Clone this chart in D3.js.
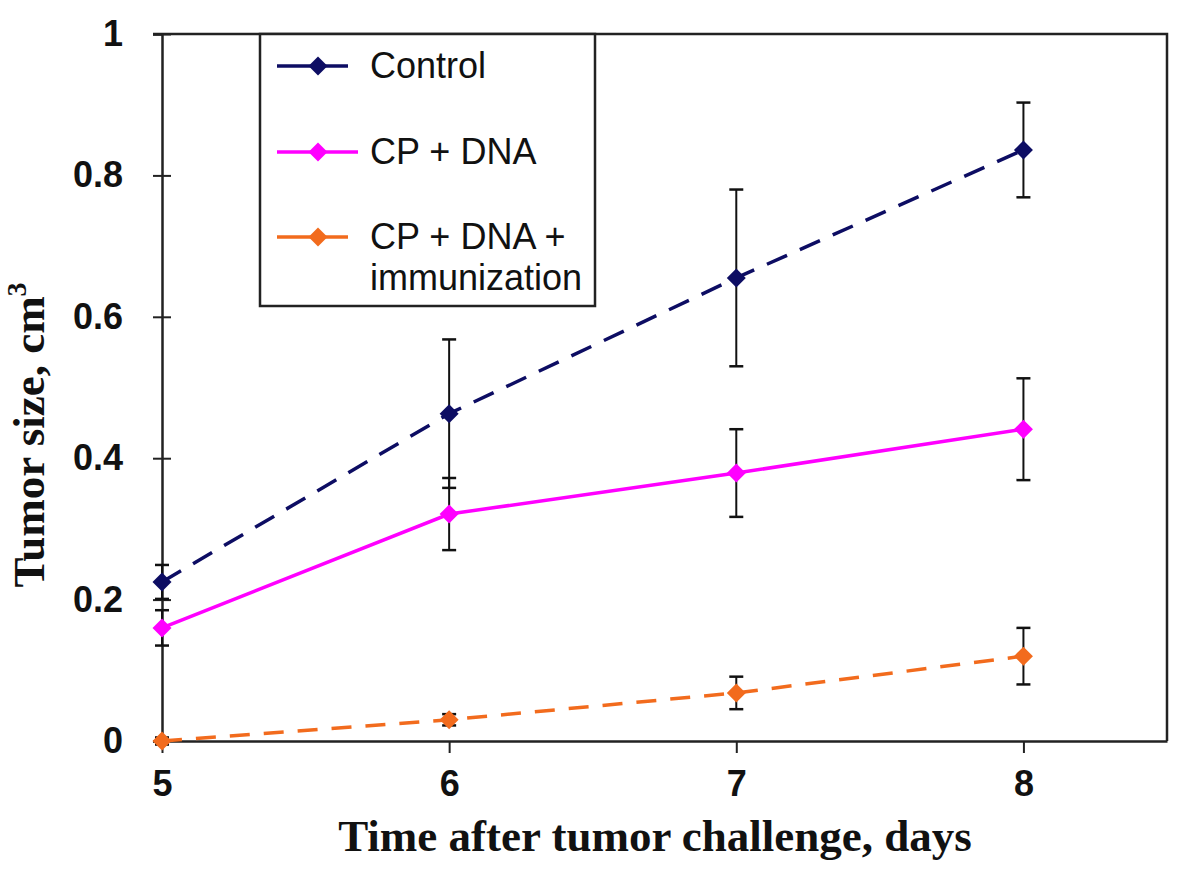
<!DOCTYPE html>
<html>
<head>
<meta charset="utf-8">
<script src="https://cdn.jsdelivr.net/npm/d3@7"></script>
<style>
    body { margin: 0; background: #fff; }
    .tick text { font-family: "Liberation Sans", Arial, sans-serif; font-weight: bold; }
</style>
</head>
<body>
<script>
(function(){
    // data
    var days = [5, 6, 7, 8];
    var control = [0.225, 0.463, 0.655, 0.836];
    var controlErr = [0.024, 0.105, 0.125, 0.067];
    var cpDna = [0.16, 0.321, 0.379, 0.441];
    var cpDnaErr = [0.025, 0.051, 0.062, 0.072];
    var cpDnaImm = [0.0, 0.03, 0.068, 0.12];
    var cpDnaImmErr = [0.005, 0.008, 0.023, 0.04];
    var xTicks = [5, 6, 7, 8];
    var yTicks = [0, 0.2, 0.4, 0.6, 0.8, 1];
    var yTickLabels = ["0", "0.2", "0.4", "0.6", "0.8", "1"];
    var seriesNames = ["Control", "CP + DNA", "CP + DNA +"];

    var width = 1200, height = 869;

    var svg = d3.select("body")
        .append("svg")
        .attr("width", width)
        .attr("height", height);

    var x = d3.scaleLinear().domain([5, 8.5]).range([162, 1167]);
    var y = d3.scaleLinear().domain([0, 1]).range([741, 34]);

    var series = [
        {name: seriesNames[0], vals: control, err: controlErr, color: "#0d0d63", dash: "22,14"},
        {name: seriesNames[1], vals: cpDna, err: cpDnaErr, color: "#ff00ff", dash: null},
        {name: seriesNames[2], vals: cpDnaImm, err: cpDnaImmErr, color: "#f26b1d", dash: "20,14"}
    ];

    // plot frame (top and right)
    svg.append("path")
        .attr("d", "M" + (x(5) - 9) + "," + y(1) + "H" + x(8.5) + "V" + y(0))
        .attr("fill", "none")
        .attr("stroke", "#222")
        .attr("stroke-width", 2.5);

    // y axis with crossing ticks
    var yAxis = svg.append("g")
        .attr("transform", "translate(" + x(5) + ",0)")
        .call(d3.axisLeft(y)
            .tickValues(yTicks)
            .tickSize(9)
            .tickPadding(30)
            .tickFormat(function(d, i){ return yTickLabels[i]; }));
    yAxis.select(".domain").attr("stroke", "#222").attr("stroke-width", 2.5);
    yAxis.selectAll(".tick line").attr("x1", -9).attr("x2", 9).attr("stroke", "#222").attr("stroke-width", 2);
    yAxis.selectAll(".tick text").attr("font-size", 36).attr("fill", "#111");
    yAxis.selectAll(".tick").filter(function(d){ return d === 0; }).select("line").attr("x2", 0);

    // x axis
    var xAxis = svg.append("g")
        .attr("transform", "translate(0," + y(0) + ")")
        .call(d3.axisBottom(x)
            .tickValues(xTicks)
            .tickSize(12)
            .tickSizeOuter(0)
            .tickPadding(17)
            .tickFormat(d3.format("d")));
    xAxis.select(".domain").attr("stroke", "#222").attr("stroke-width", 2.5);
    xAxis.selectAll(".tick line").attr("stroke", "#222").attr("stroke-width", 2);
    xAxis.selectAll(".tick text").attr("font-size", 36).attr("fill", "#111");

    var line = d3.line()
        .x(function(d, i){ return x(days[i]); })
        .y(function(d){ return y(d); });

    // series lines
    series.forEach(function(s){
        svg.append("path")
            .datum(s.vals)
            .attr("d", line)
            .attr("fill", "none")
            .attr("stroke", s.color)
            .attr("stroke-width", 3.5)
            .attr("stroke-dasharray", s.dash);
    });

    // error bars
    series.forEach(function(s){
        var g = svg.append("g");
        s.vals.forEach(function(v, i){
            var cx = x(days[i]), top = y(v + s.err[i]), bot = y(v - s.err[i]);
            g.append("line").attr("x1", cx).attr("x2", cx).attr("y1", top).attr("y2", bot)
                .attr("stroke", "#111").attr("stroke-width", 2);
            [top, bot].forEach(function(yy){
                g.append("line").attr("x1", cx - 7).attr("x2", cx + 7).attr("y1", yy).attr("y2", yy)
                    .attr("stroke", "#111").attr("stroke-width", 2.5);
            });
        });
    });

    var diamond = d3.symbol().type(d3.symbolDiamond2).size(230);

    // markers
    series.forEach(function(s){
        svg.selectAll(null)
            .data(s.vals)
            .enter()
            .append("path")
            .attr("d", diamond)
            .attr("transform", function(d, i){ return "translate(" + x(days[i]) + "," + y(d) + ")"; })
            .attr("fill", s.color);
    });

    // legend
    var legend = svg.append("g");
    legend.append("rect")
        .attr("x", 260).attr("y", 34)
        .attr("width", 335).attr("height", 272)
        .attr("fill", "#fff")
        .attr("stroke", "#222")
        .attr("stroke-width", 2.5);

    var legendY = [66, 152, 237];
    series.forEach(function(s, i){
        legend.append("line")
            .attr("x1", 277).attr("x2", i === 1 ? 358 : 348)
            .attr("y1", legendY[i]).attr("y2", legendY[i])
            .attr("stroke", s.color)
            .attr("stroke-width", 3.5);
        legend.append("path")
            .attr("d", diamond)
            .attr("transform", "translate(318," + legendY[i] + ")")
            .attr("fill", s.color);
        legend.append("text")
            .attr("x", 370).attr("y", legendY[i] + 12)
            .attr("font-family", "Liberation Sans, Arial, sans-serif")
            .attr("font-size", 36)
            .attr("fill", "#111")
            .text(s.name);
    });
    legend.append("text")
        .attr("x", 370).attr("y", 290)
        .attr("font-family", "Liberation Sans, Arial, sans-serif")
        .attr("font-size", 36)
        .attr("fill", "#111")
        .text("immunization");

    // axis titles
    svg.append("text")
        .attr("x", 655).attr("y", 851)
        .attr("text-anchor", "middle")
        .attr("font-family", "Liberation Serif, Times New Roman, serif")
        .attr("font-weight", "bold")
        .attr("font-size", 45)
        .attr("fill", "#111")
        .text("Time after tumor challenge, days");

    var yTitle = svg.append("text")
        .attr("transform", "translate(44,435) rotate(-90)")
        .attr("text-anchor", "middle")
        .attr("font-family", "Liberation Serif, Times New Roman, serif")
        .attr("font-weight", "bold")
        .attr("font-size", 45)
        .attr("fill", "#111");
    yTitle.append("tspan").text("Tumor size, cm");
    yTitle.append("tspan").attr("font-size", 28).attr("dy", -18).text("3");
})();
</script>
</body>
</html>
